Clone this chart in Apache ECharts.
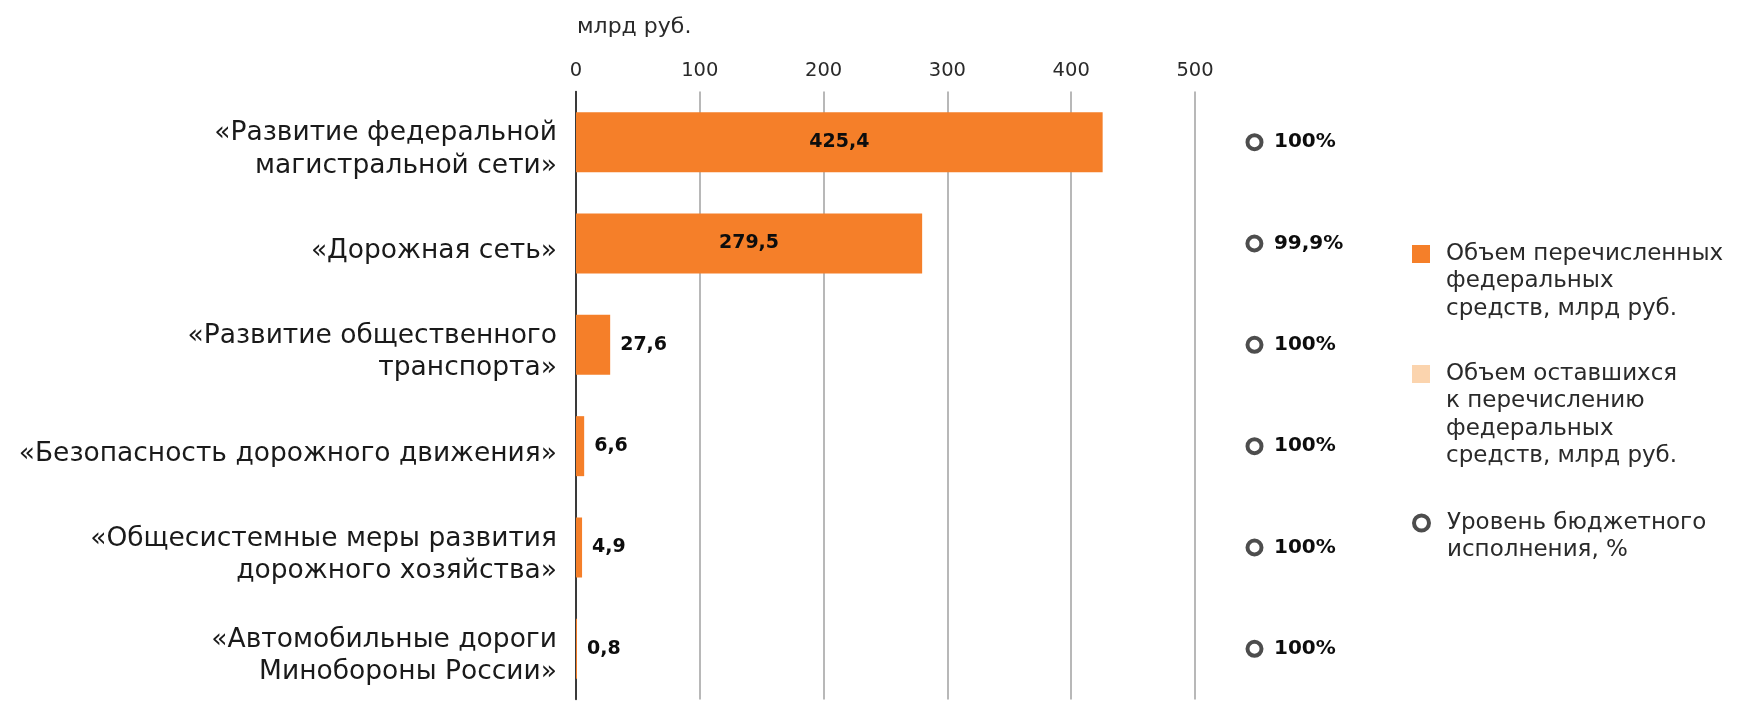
<!DOCTYPE html>
<html><head><meta charset="utf-8">
<script src="https://cdn.jsdelivr.net/npm/echarts@6/dist/echarts.min.js"></script>
<style>html,body{margin:0;padding:0;background:#fff}#c{width:1750px;height:718px}</style>
</head><body><div id="c"></div>
<script>
const categories = [
  '«Развитие федеральной\nмагистральной сети»',
  '«Дорожная сеть»',
  '«Развитие общественного\nтранспорта»',
  '«Безопасность дорожного движения»',
  '«Общесистемные меры развития\nдорожного хозяйства»',
  '«Автомобильные дороги\nМинобороны России»'
];
const transferred = [425.4, 279.5, 27.6, 6.6, 4.9, 0.8];
const remaining = [0, 0.3, 0, 0, 0, 0];
const executionPct = [100, 99.9, 100, 100, 100, 100];
const xTicks = [0, 100, 200, 300, 400, 500];
const unitLabel = 'млрд руб.';
const seriesNames = [
  'Объем перечисленных федеральных средств, млрд руб.',
  'Объем оставшихся к перечислению федеральных средств, млрд руб.',
  'Уровень бюджетного исполнения, %'
];
const legendLines = [
  ['Объем перечисленных', 'федеральных', 'средств, млрд руб.'],
  ['Объем оставшихся', 'к перечислению', 'федеральных', 'средств, млрд руб.'],
  ['Уровень бюджетного', 'исполнения, %']
];

const FONT = 'DejaVu Sans';
const ORANGE = '#F57F29';
const PEACH = '#FBD4AE';
const RING = '#4D4D4D';
const fmt = v => v.toFixed(1).replace('.', ',');
const fmtPct = v => (Number.isInteger(v) ? String(v) : fmt(v)) + '%';

const GRID_TOP = 91.5, GRID_H = 608;
const LH = 27.5;

function makeLegend(i, iconCenterY, opts) {
  const n = legendLines[i].length;
  const totalLines = 2 * n - 1;
  return Object.assign({
    show: true,
    orient: 'vertical',
    left: 1412,
    top: iconCenterY - totalLines * LH / 2,
    padding: 0,
    selectedMode: false,
    data: [seriesNames[i]],
    itemWidth: 18,
    itemHeight: 18,
    // leading blank lines keep the first text line level with the icon
    formatter: () => '\n'.repeat(n - 1) + legendLines[i].join('\n'),
    textStyle: {
      fontFamily: FONT, fontSize: 23, color: '#2a2a2a', lineHeight: LH,
      padding: [0, 0, 0, 11]
    }
  }, opts || {});
}

const chart = echarts.init(document.getElementById('c'), null, {renderer: 'canvas'});
chart.setOption({
  backgroundColor: '#fff',
  animation: false,
  title: {
    text: unitLabel, left: 572, top: 11,
    textStyle: {fontFamily: FONT, fontSize: 22, fontWeight: 'normal', color: '#2a2a2a'}
  },
  legend: [
    makeLegend(0, 254, {icon: 'rect'}),
    makeLegend(1, 374, {icon: 'rect'}),
    makeLegend(2, 523, {icon: 'circle', itemWidth: 15, itemHeight: 15,
      itemStyle: {color: '#fff', borderColor: RING, borderWidth: 4},
      textStyle: {fontFamily: FONT, fontSize: 23, color: '#2a2a2a', lineHeight: LH, padding: [0, 0, 0, 13]}})
  ],
  grid: [
    {left: 576, top: GRID_TOP, width: 619, height: GRID_H, containLabel: false},
    {left: 1154.5, top: GRID_TOP, width: 100, height: GRID_H, containLabel: false}
  ],
  xAxis: [
    {
      type: 'value', gridIndex: 0, position: 'top',
      min: xTicks[0], max: xTicks[xTicks.length - 1], interval: xTicks[1] - xTicks[0],
      axisLine: {show: false}, axisTick: {show: false},
      axisLabel: {fontFamily: FONT, fontSize: 19.5, color: '#2a2a2a', margin: 11},
      splitLine: {show: true, lineStyle: {color: '#a0a0a0', width: 1.5}}
    },
    {
      type: 'value', gridIndex: 1, min: 0, max: 100, show: false
    }
  ],
  yAxis: [
    {
      type: 'category', gridIndex: 0, data: categories, inverse: true,
      axisLine: {show: true, lineStyle: {color: '#111', width: 1.5}},
      axisTick: {show: false},
      axisLabel: {
        margin: 19, align: 'right',
        formatter: v => '{s| }\n' + v.split('\n').map(l => '{a|' + l + '}').join('\n'),
        rich: {
          s: {fontSize: 1, lineHeight: 15},
          a: {fontFamily: FONT, fontSize: 26.5, lineHeight: 32.4, color: '#1a1a1a'}
        }
      },
      splitLine: {show: false}
    },
    {
      type: 'category', gridIndex: 1, data: categories, inverse: true, show: false
    }
  ],
  series: [
    {
      name: seriesNames[0], type: 'bar', stack: 'total', xAxisIndex: 0, yAxisIndex: 0,
      barWidth: 60,
      itemStyle: {color: ORANGE},
      data: transferred.map(v => ({
        value: v,
        label: v > 100 ? {position: 'inside'} : {position: 'right', distance: 10}
      })),
      label: {
        show: true, fontFamily: FONT, fontSize: 19, fontWeight: 'bold', color: '#0d0d0d',
        formatter: p => fmt(p.value)
      }
    },
    {
      name: seriesNames[1], type: 'bar', stack: 'total', xAxisIndex: 0, yAxisIndex: 0,
      barWidth: 60,
      itemStyle: {color: PEACH},
      data: remaining
    },
    {
      name: seriesNames[2], type: 'scatter', xAxisIndex: 1, yAxisIndex: 1,
      symbol: 'circle', symbolSize: 14,
      itemStyle: {color: '#fff', borderColor: RING, borderWidth: 4, opacity: 1},
      data: executionPct,
      label: {
        show: true, position: 'right', distance: 10.5,
        fontFamily: FONT, fontSize: 20, fontWeight: 'bold', color: '#0d0d0d',
        formatter: p => fmtPct(p.value)
      }
    }
  ]
});
</script>
</body></html>
